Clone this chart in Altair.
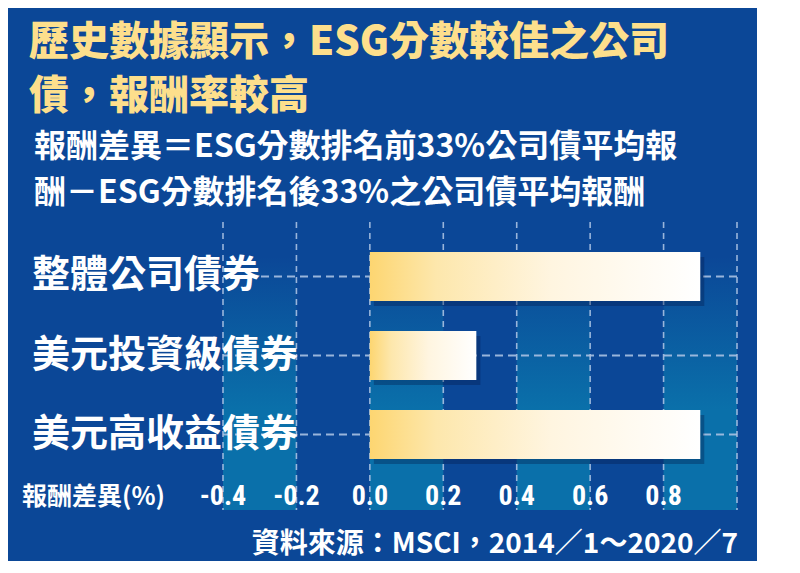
import altair as alt
import pandas as pd

# ---- data ----
categories = ["整體公司債券", "美元投資級債券", "美元高收益債券"]
values = [0.90, 0.29, 0.90]
tick_values = [-0.4, -0.2, 0.0, 0.2, 0.4, 0.6, 0.8]
tick_labels = ["-0.4", "-0.2", "0.0", "0.2", "0.4", "0.6", "0.8"]
grid_values = [-0.4, -0.2, 0.0, 0.2, 0.4, 0.6, 0.8, 1.0]
shade_start = [-0.4, 0.0, 0.4, 0.8]
shade_end = [-0.2, 0.2, 0.6, 1.0]

title_lines = ["歷史數據顯示，ESG分數較佳之公司", "債，報酬率較高"]
sub_lines = ["報酬差異＝ESG分數排名前33%公司債平均報", "酬－ESG分數排名後33%之公司債平均報酬"]
axis_title = "報酬差異(%)"
source_text = "資料來源：MSCI，2014／1～2020／7"

# ---- styling ----
BG = "#0b4797"
LIGHT_COL = "#0a70aa"
YELLOW = "#fddf8c"
GRID = "#a9c1e2"
CJK = "Noto Sans CJK TC"
NARROW = "Liberation Sans Narrow, Roboto Condensed, Liberation Sans, Noto Sans"

W, H = 514, 288          # plot area
OX, OY = 223, 222        # plot origin in page pixels


def px(x):
    return x - OX


def py(y):
    return y - OY


xscale = alt.Scale(domain=[-0.4, 1.0], nice=False, zero=False)
yscale = alt.Scale(domain=categories, range=[30, 237], paddingInner=0.38, paddingOuter=0)

bars_df = pd.DataFrame({"cat": categories, "value": values})
ticks_df = pd.DataFrame({"v": tick_values, "lab": tick_labels})
grid_df = pd.DataFrame({"g": grid_values})
shade_df = pd.DataFrame({"s": shade_start, "e": shade_end})

shade = alt.Chart(shade_df).mark_rect(
    fill=alt.Gradient(
        gradient="linear",
        stops=[alt.GradientStop(color=BG, offset=0),
               alt.GradientStop(color=BG, offset=0.12),
               alt.GradientStop(color=LIGHT_COL, offset=0.65),
               alt.GradientStop(color=LIGHT_COL, offset=1)],
        x1=0, x2=0, y1=0, y2=1),
).encode(
    x=alt.X("s:Q", scale=xscale, axis=None),
    x2="e:Q",
    y=alt.value(0),
    y2=alt.value(H),
)

vgrid = alt.Chart(grid_df).mark_rule(
    color=GRID, strokeWidth=1.6, strokeDash=[6, 5], opacity=0.9
).encode(x=alt.X("g:Q", scale=xscale, axis=None))

hgrid = alt.Chart(bars_df).mark_rule(
    color=GRID, strokeWidth=2, strokeDash=[8, 5], opacity=0.9
).encode(y=alt.Y("cat:N", scale=yscale, axis=None))

bar_shadow = alt.Chart(bars_df).mark_bar(
    color="#021a4a", opacity=0.35, xOffset=4, yOffset=5
).encode(
    x=alt.X("value:Q", scale=xscale, axis=None),
    y=alt.Y("cat:N", scale=yscale, axis=None),
)

bars = alt.Chart(bars_df).mark_bar(
    fill=alt.Gradient(
        gradient="linear",
        stops=[alt.GradientStop(color="#fdd671", offset=0),
               alt.GradientStop(color="#fde7ac", offset=0.2),
               alt.GradientStop(color="#fff5e0", offset=0.55),
               alt.GradientStop(color="#ffffff", offset=1)],
        x1=0, x2=1, y1=0, y2=0),
).encode(
    x=alt.X("value:Q", scale=xscale, axis=None),
    y=alt.Y("cat:N", scale=yscale, axis=None),
)

ylab = alt.Chart(bars_df).mark_text(
    align="left", baseline="middle", font=CJK, fontSize=38, fontWeight="bold",
    color="white",
).encode(
    x=alt.value(px(32)),
    y=alt.Y("cat:N", scale=yscale, axis=None),
    text="cat:N",
)

xlab = alt.Chart(ticks_df).mark_text(
    align="center", baseline="middle", font=NARROW, fontSize=28, fontWeight="bold",
    color="white",
).encode(
    x=alt.X("v:Q", scale=xscale, axis=None),
    y=alt.value(py(497)),
    text="lab:N",
)


def static_text(text, x, y, size, color="white", align="left", weight="bold",
                font=CJK, baseline="middle", line_height=None):
    kw = {}
    if line_height is not None:
        kw = {"lineBreak": "\n", "lineHeight": line_height}
    return alt.Chart(pd.DataFrame({"t": [text]})).mark_text(
        align=align, baseline=baseline, font=font, fontSize=size,
        fontWeight=weight, color=color, **kw,
    ).encode(x=alt.value(px(x)), y=alt.value(py(y)), text="t:N")


texts = [
    static_text(axis_title, 22, 497, 25),
    static_text("\n".join(title_lines), 29, 23, 40, color=YELLOW, weight=900,
                baseline="top", line_height=54),
    static_text("\n".join(sub_lines), 34, 132, 32, weight="bold",
                baseline="top", line_height=46),
    static_text(source_text, 738, 545, 28, align="right", weight="bold"),
]

chart = alt.layer(
    shade, vgrid, hgrid, bar_shadow, bars, ylab, xlab, *texts
).properties(
    width=W, height=H,
    background=BG,
    padding={"left": 215, "top": 214, "right": 20, "bottom": 51},
    autosize=alt.AutoSizeParams(type="none"),
).configure_view(stroke=None)

chart.save("out.html", embed_options={"renderer": "svg", "actions": False})
